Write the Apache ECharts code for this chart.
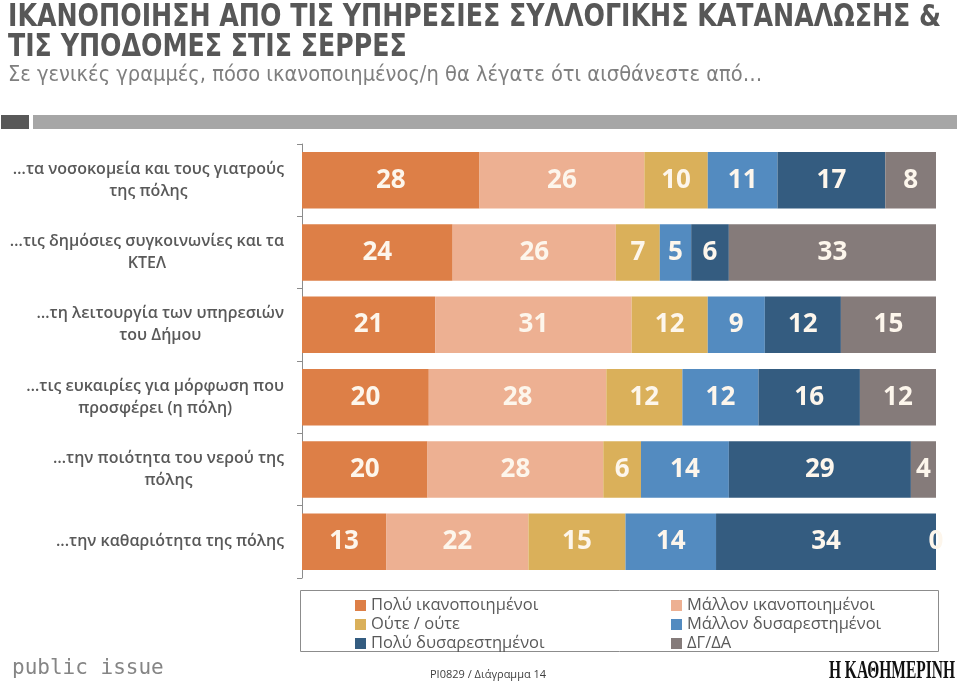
<!DOCTYPE html>
<html>
<head>
<meta charset="utf-8">
<script src="https://cdn.jsdelivr.net/npm/echarts@6/dist/echarts.min.js"></script>
<style>
html,body{margin:0;padding:0;background:#fff;}
#chart{width:960px;height:684px;}
</style>
</head>
<body>
<div id="chart"></div>
<script>
const categories = [
  '…τα νοσοκομεία και τους γιατρούς\nτης πόλης',
  '…τις δημόσιες συγκοινωνίες και τα\nΚΤΕΛ',
  '…τη λειτουργία των υπηρεσιών\nτου Δήμου',
  '…τις ευκαιρίες για μόρφωση που\nπροσφέρει (η πόλη)',
  '…την ποιότητα του νερού της\nπόλης',
  '...την καθαριότητα της πόλης'
];
const seriesNames = ['Πολύ ικανοποιημένοι','Μάλλον ικανοποιημένοι','Ούτε / ούτε','Μάλλον δυσαρεστημένοι','Πολύ δυσαρεστημένοι','ΔΓ/ΔΑ'];
const veryS    = [28, 24, 21, 20, 20, 13];
const ratherS  = [26, 26, 31, 28, 28, 22];
const neither  = [10,  7, 12, 12,  6, 15];
const ratherD  = [11,  5,  9, 12, 14, 14];
const veryD    = [17,  6, 12, 16, 29, 34];
const dkna     = [ 8, 33, 15, 12,  4,  0];
const colors = ['#DD7F47','#EDB092','#DAB05A','#538BC0','#345C80','#857B7A'];

const allValues = [veryS, ratherS, neither, ratherD, veryD, dkna];
const totals = categories.map((c, i) => allValues.reduce((s, arr) => s + arr[i], 0));

const chart = echarts.init(document.getElementById('chart'), null, {renderer: 'canvas'});

const series = allValues.map((arr, k) => ({
  name: seriesNames[k],
  type: 'bar',
  stack: 'total',
  barCategoryGap: '22%',
  itemStyle: {color: colors[k]},
  data: arr.map((v, i) => v / totals[i] * 100),
  label: {
    show: true,
    position: 'inside',
    color: '#FDF6EC',
    fontFamily: 'Open Sans',
    fontWeight: 'bold',
    fontSize: 26,
    formatter: p => String(arr[p.dataIndex])
  },
  emphasis: {disabled: true}
}));

const legendText = {color: '#595959', fontFamily: 'Open Sans', fontSize: 16.5};
const condensed = "'Liberation Sans Narrow', 'DejaVu Sans Condensed', sans-serif";

chart.setOption({
  animation: false,
  grid: {left: 302, right: 24, top: 144, bottom: 106, containLabel: false},
  xAxis: {type: 'value', min: 0, max: 100, show: false},
  yAxis: {
    type: 'category',
    data: categories,
    inverse: true,
    axisLine: {show: true, lineStyle: {color: '#8c8c8c', width: 1}},
    axisTick: {show: true, length: 5, lineStyle: {color: '#8c8c8c'}},
    axisLabel: {
      margin: 18,
      align: 'right',
      color: '#595959',
      fontFamily: 'Open Sans',
      fontWeight: 600,
      fontSize: 16,
      lineHeight: 22,
      formatter: v => v.split('\n').map(l => '{c|' + l + '}').join('\n'),
      rich: {c: {align: 'center', color: '#595959', fontFamily: 'Open Sans', fontWeight: 600, fontSize: 16, lineHeight: 22}}
    }
  },
  legend: [
    {data: [seriesNames[0], seriesNames[2], seriesNames[4]], orient: 'vertical', left: 350, top: 592,
     itemWidth: 11, itemHeight: 11, itemGap: 2, icon: 'rect', textStyle: legendText, selectedMode: false},
    {data: [seriesNames[1], seriesNames[3], seriesNames[5]], orient: 'vertical', left: 666, top: 592,
     itemWidth: 11, itemHeight: 11, itemGap: 2, icon: 'rect', textStyle: legendText, selectedMode: false}
  ],
  graphic: [
    {type: 'text', x: 8, y: 3, scaleX: 0.905, style: {
      text: 'ΙΚΑΝΟΠΟΙΗΣΗ ΑΠΟ ΤΙΣ ΥΠΗΡΕΣΙΕΣ ΣΥΛΛΟΓΙΚΗΣ ΚΑΤΑΝΑΛΩΣΗΣ &\nΤΙΣ ΥΠΟΔΟΜΕΣ ΣΤΙΣ ΣΕΡΡΕΣ',
      fill: '#575757', font: "bold 31px " + condensed, lineHeight: 30, textAlign: 'left', textVerticalAlign: 'top'}},
    {type: 'text', x: 8, y: 64, scaleX: 0.985, style: {
      text: 'Σε γενικές γραμμές, πόσο ικανοποιημένος/η θα λέγατε ότι αισθάνεστε από…',
      fill: '#7f7f7f', font: "22px " + condensed, textAlign: 'left', textVerticalAlign: 'top'}},
    {type: 'rect', shape: {x: 1, y: 115, width: 28, height: 14}, style: {fill: '#595959'}},
    {type: 'rect', shape: {x: 33, y: 115, width: 924, height: 14}, style: {fill: '#a6a6a6'}},
    {type: 'rect', shape: {x: 300.5, y: 590.5, width: 638, height: 61}, style: {fill: 'none', stroke: '#8c8c8c', lineWidth: 1}},
    {type: 'text', left: 12, top: 658, style: {text: 'public issue', fill: '#858585', font: "21px 'DejaVu Sans Mono', monospace"}},
    {type: 'text', left: 430, top: 669, style: {text: 'PI0829 / Διάγραμμα 14', fill: '#404040', font: "11px 'Open Sans', sans-serif"}},
    {type: 'text', x: 955, y: 659, scaleX: 0.62, style: {text: 'Η ΚΑΘΗΜΕΡΙΝΗ', fill: '#111', font: "bold 25px 'Liberation Serif', serif", textAlign: 'right', textVerticalAlign: 'top'}}
  ],
  series: series
});
</script>
</body>
</html>
